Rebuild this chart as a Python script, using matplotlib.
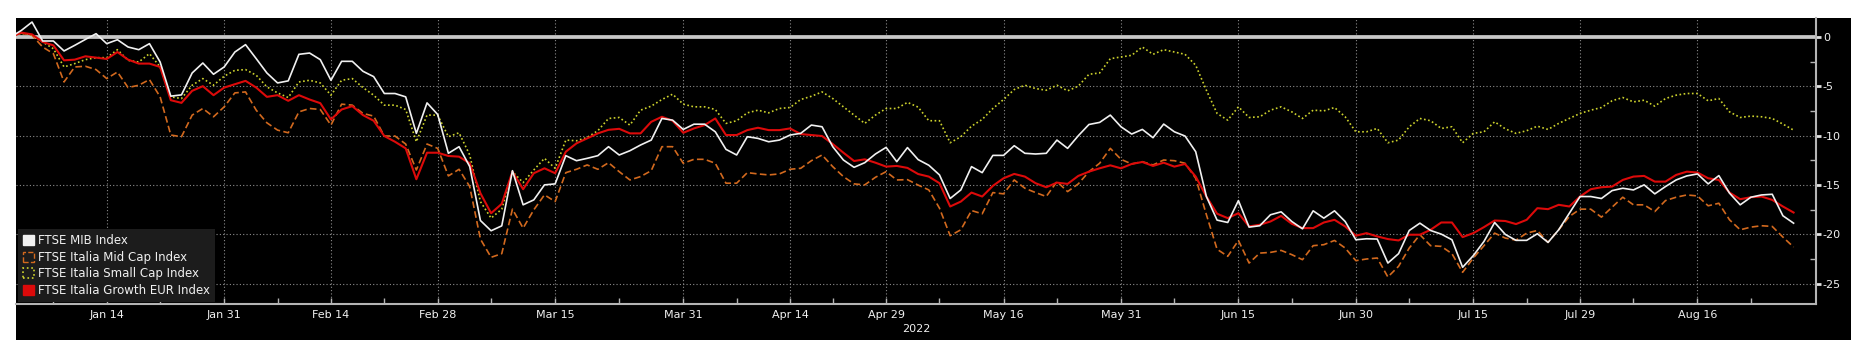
import numpy as np
import pandas as pd
import matplotlib
matplotlib.use("Agg")
import matplotlib.pyplot as plt
from matplotlib.patches import Patch, Rectangle

plt.rcParams["font.family"] = ["DejaVu Sans"]
plt.rcParams["axes.unicode_minus"] = False

# Trading days (Borsa Italiana calendar), Jan 3 - Aug 29 2022
holidays = ["2022-04-15", "2022-04-18", "2022-08-15"]
dates = pd.bdate_range("2022-01-03", "2022-08-29", freq="C", holidays=holidays)

tick_dates = ["2022-01-14", "2022-01-31", "2022-02-14", "2022-02-28", "2022-03-15",
              "2022-03-31", "2022-04-14", "2022-04-29", "2022-05-16", "2022-05-31",
              "2022-06-15", "2022-06-30", "2022-07-15", "2022-07-29", "2022-08-16"]

labels = ["FTSE MIB Index", "FTSE Italia Mid Cap Index",
          "FTSE Italia Small Cap Index", "FTSE Italia Growth EUR Index"]

# % change since start of year
mib = [0, 0.67, 1.52, -0.40, -0.40, -1.41, -0.84, -0.24, 0.34, -0.67,
       -0.27, -1.01, -1.28, -0.67, -2.53, -5.99, -5.86, -3.64, -2.63, -3.77,
       -3.03, -1.52, -0.77, -2.19, -3.64, -4.65, -4.44, -1.75, -1.62, -2.29,
       -4.38, -2.46, -2.46, -3.47, -4.01, -5.72, -5.72, -6.06, -9.76, -6.67,
       -7.85, -11.78, -11.11, -13.13, -18.59, -19.63, -19.13, -13.54, -17.0, -16.5,
       -14.98, -14.88, -12.02, -12.53, -12.29, -12.02, -11.11, -11.95, -11.52, -10.94,
       -10.44, -8.25, -8.42, -9.36, -8.83, -8.83, -9.60, -11.38, -11.95, -10.10,
       -10.27, -10.61, -10.44, -9.93, -9.76, -8.92, -9.09, -11.11, -12.46, -13.2,
       -12.73, -11.85, -11.18, -12.63, -11.2, -12.42, -12.99, -13.97, -16.36, -15.49,
       -13.13, -13.74, -11.99, -11.99, -11.01, -11.78, -11.85, -11.78, -10.44, -11.28,
       -10.0, -8.86, -8.65, -7.91, -9.09, -9.83, -9.36, -10.20, -8.82, -9.60,
       -10.03, -11.62, -16.16, -18.55, -18.79, -16.57, -19.26, -19.12, -18.01, -17.71,
       -18.69, -19.43, -17.61, -18.35, -17.61, -18.69, -20.54, -20.44, -20.47, -22.90,
       -21.95, -19.60, -18.86, -19.60, -19.97, -20.54, -23.33, -22.15, -20.71, -18.79,
       -20.0, -20.6, -20.6, -19.93, -20.81, -19.53, -17.85, -16.16, -16.16, -16.36,
       -15.56, -15.32, -15.49, -14.98, -15.89, -15.15, -14.48, -14.07, -13.87, -14.88,
       -14.04, -15.82, -17.0, -16.23, -16.0, -15.93, -18.11, -18.86]

mid = [0, 0.4, 0.17, -1.01, -1.68, -4.55, -3.03, -2.96, -3.30, -4.21,
       -3.54, -5.12, -4.88, -4.31, -6.06, -9.93, -10.1, -7.91, -7.24, -8.08,
       -7.07, -5.66, -5.56, -7.41, -8.69, -9.43, -9.70, -7.58, -7.24, -7.34,
       -8.92, -6.80, -6.90, -7.74, -8.01, -10.03, -10.03, -10.84, -13.47, -10.84,
       -11.28, -14.07, -13.40, -15.15, -20.47, -22.32, -21.95, -17.44, -19.36, -17.51,
       -15.99, -16.67, -13.74, -13.40, -12.96, -13.40, -12.73, -13.64, -14.48, -14.14,
       -13.54, -11.11, -11.11, -12.79, -12.39, -12.39, -12.79, -14.81, -14.81, -13.74,
       -13.87, -13.97, -13.87, -13.40, -13.30, -12.53, -11.95, -13.13, -14.14, -14.88,
       -14.98, -14.21, -13.64, -14.48, -14.45, -15.0, -15.49, -17.34, -20.13, -19.53,
       -17.58, -17.91, -15.76, -15.89, -14.48, -15.32, -15.76, -16.16, -14.65, -15.66,
       -14.88, -13.64, -12.79, -11.28, -12.39, -12.86, -12.63, -12.96, -12.46, -12.53,
       -12.79, -14.31, -18.0, -21.5, -22.22, -20.61, -22.9, -21.89, -21.82, -21.62,
       -22.05, -22.56, -21.14, -21.04, -20.61, -21.38, -22.66, -22.49, -22.39, -24.31,
       -23.23, -21.38, -20.03, -21.14, -21.21, -21.95, -23.84, -22.39, -21.14, -19.87,
       -20.37, -20.58, -19.87, -19.6, -20.81, -19.53, -18.18, -17.44, -17.44, -18.25,
       -17.24, -16.23, -17.0, -17.0, -17.68, -16.57, -16.23, -16.0, -16.1, -17.1,
       -16.84, -18.52, -19.53, -19.26, -19.12, -19.19, -20.27, -21.28]

small = [0, 0.4, 0.2, -0.5, -1.18, -3.03, -2.69, -2.29, -2.09, -2.09,
         -1.28, -2.36, -2.53, -1.68, -3.03, -6.06, -6.23, -4.88, -4.21, -4.88,
         -3.97, -3.37, -3.30, -3.87, -5.05, -5.66, -6.13, -4.55, -4.38, -4.65,
         -5.89, -4.38, -4.21, -5.12, -5.89, -6.90, -6.90, -7.34, -10.61, -7.91,
         -7.91, -10.1, -9.70, -11.95, -16.67, -18.35, -17.44, -13.64, -14.75, -13.47,
         -12.29, -13.30, -10.44, -10.51, -10.17, -9.49, -8.25, -8.15, -8.92, -7.41,
         -7.0, -6.33, -5.79, -6.80, -7.07, -7.07, -7.34, -8.75, -8.48, -7.68,
         -7.41, -7.68, -7.24, -7.14, -6.33, -6.0, -5.56, -6.23, -7.07, -7.91,
         -8.75, -7.91, -7.24, -7.24, -6.62, -7.1, -8.48, -8.48, -10.71, -10.1,
         -9.03, -8.35, -7.24, -6.33, -5.32, -4.88, -5.22, -5.39, -4.88, -5.45,
         -4.98, -3.77, -3.64, -2.19, -2.02, -1.85, -1.01, -1.75, -1.28, -1.52,
         -1.75, -2.86, -5.39, -7.74, -8.42, -7.07, -8.15, -8.08, -7.41, -7.07,
         -7.58, -8.25, -7.41, -7.48, -7.14, -8.08, -9.60, -9.60, -9.26, -10.71,
         -10.44, -9.09, -8.25, -8.48, -9.26, -9.09, -10.71, -9.76, -9.60, -8.59,
         -9.3, -9.76, -9.49, -9.03, -9.36, -8.75, -8.25, -7.74, -7.41, -7.14,
         -6.46, -6.13, -6.57, -6.40, -7.0, -6.23, -5.89, -5.72, -5.72, -6.46,
         -6.23, -7.58, -8.15, -8.01, -8.08, -8.25, -8.82, -9.43]

growth = [0, 0.45, 0.27, -0.5, -0.84, -2.36, -2.29, -1.95, -2.09, -2.22,
          -1.52, -2.29, -2.69, -2.69, -3.03, -6.40, -6.67, -5.45, -4.98, -5.89,
          -5.12, -4.78, -4.44, -5.12, -6.06, -5.89, -6.46, -5.89, -6.33, -6.70,
          -8.35, -7.34, -7.00, -7.91, -8.48, -10.03, -10.61, -11.28, -14.41, -11.72,
          -11.72, -12.05, -12.12, -12.79, -15.82, -17.85, -16.9, -13.64, -15.42, -13.80,
          -13.30, -13.80, -11.62, -10.77, -10.27, -9.76, -9.40, -9.30, -9.76, -9.76,
          -8.59, -8.08, -8.48, -9.70, -9.26, -8.92, -8.25, -9.93, -9.93, -9.43,
          -9.19, -9.43, -9.43, -9.26, -9.83, -9.93, -10.03, -10.84, -11.72, -12.56,
          -12.39, -12.73, -13.13, -13.06, -13.26, -13.88, -14.14, -14.81, -17.17, -16.67,
          -15.76, -16.16, -15.08, -14.31, -13.87, -14.14, -14.81, -15.22, -14.75, -14.88,
          -14.07, -13.64, -13.30, -13.0, -13.30, -12.86, -12.66, -13.06, -12.73, -13.13,
          -12.86, -14.14, -16.16, -17.9, -18.35, -17.85, -19.19, -19.02, -18.69, -18.12,
          -18.92, -19.36, -19.36, -18.79, -18.52, -19.19, -20.13, -19.87, -20.2, -20.47,
          -20.61, -20.03, -20.03, -19.53, -18.79, -18.79, -20.27, -19.87, -19.26, -18.59,
          -18.64, -18.95, -18.52, -17.34, -17.44, -17.0, -17.17, -16.16, -15.42, -15.22,
          -15.15, -14.48, -14.14, -14.07, -14.65, -14.65, -13.97, -13.64, -13.73, -14.31,
          -14.48, -15.76, -16.43, -16.23, -16.16, -16.5, -17.17, -17.78]

white = "#f0f0f0"
orange = "#d2691e"
yellow = "#cdd22d"
red = "#dc0a0a"
grey = "#b4b4b4"

W, H = 1865, 352
fig = plt.figure(figsize=(W / 100, H / 100), dpi=100, facecolor="white")
# black panel behind the chart
fig.patches.append(Rectangle((16 / W, 12 / H), 1835 / W, 322 / H, transform=fig.transFigure,
                             facecolor="black", edgecolor="none", zorder=-10))
ax = fig.add_axes([16 / W, 1 - 304 / H, 1800 / W, 286 / H])
ax.set_facecolor("black")

x = np.arange(len(dates))
ax.plot(x, mid, color=orange, lw=1.2, ls=(0, (4, 2)), zorder=3)
ax.plot(x, small, color=yellow, lw=1.2, ls=(0, (1, 1.5)), zorder=3)
ax.plot(x, growth, color=red, lw=1.5, zorder=4)
ax.plot(x, mib, color=white, lw=1.2, zorder=5)

ax.axhline(0, color="#c8c8c8", lw=2.7, zorder=2)

# axes / ticks
ax.set_xlim(0.5, 169.1)
ax.set_ylim(-27.05, 1.93)
ticks = [dates.get_loc(pd.Timestamp(d)) for d in tick_dates]
ax.set_xticks(ticks)
ax.set_xticklabels([dates[i].strftime("%b %d") for i in ticks])
ax.set_xticks([(a + b) // 2 for a, b in zip([0] + ticks, ticks + [len(dates) + 1])], minor=True)
ax.set_yticks([0, -5, -10, -15, -20, -25])
ax.set_yticklabels(["0", "-5", "-10", "-15", "-20", "-25"])
ax.set_yticks([-2.5, -7.5, -12.5, -17.5, -22.5], minor=True)
ax.yaxis.tick_right()
ax.tick_params(axis="x", which="both", direction="in", length=4, width=1, color=grey,
               labelcolor=white, labelsize=8, pad=4)
ax.tick_params(axis="y", which="major", direction="out", length=3.5, width=2, color="#e0e0e0",
               labelcolor=white, labelsize=8, pad=1.5)
ax.tick_params(axis="y", which="minor", direction="in", length=4, width=1, color=grey)
for s in ["left", "top"]:
    ax.spines[s].set_visible(False)
for s in ["bottom", "right"]:
    ax.spines[s].set_color(grey)
    ax.spines[s].set_linewidth(1.5)

ax.grid(True, which="major", color="#8c8c8c", ls=(0, (1, 2)), lw=0.8, zorder=1)
ax.set_xlabel("2022", color=white, fontsize=8, labelpad=3)

handles = [Patch(facecolor=white, edgecolor=white),
           Patch(facecolor="none", edgecolor=orange, ls="--", lw=1),
           Patch(facecolor="none", edgecolor=yellow, ls=":", lw=1.2),
           Patch(facecolor=red, edgecolor=red)]
leg = ax.legend(handles, labels, loc="lower left", fontsize=8.5, frameon=True, fancybox=False,
                facecolor="#1c1c1c", edgecolor="none", framealpha=1, labelcolor=white,
                handlelength=0.9, handleheight=0.9, handletextpad=0.35, labelspacing=0.3,
                borderpad=0.45, borderaxespad=0.15)
leg.set_zorder(10)

fig.savefig("out.png", dpi=100, facecolor="white")
